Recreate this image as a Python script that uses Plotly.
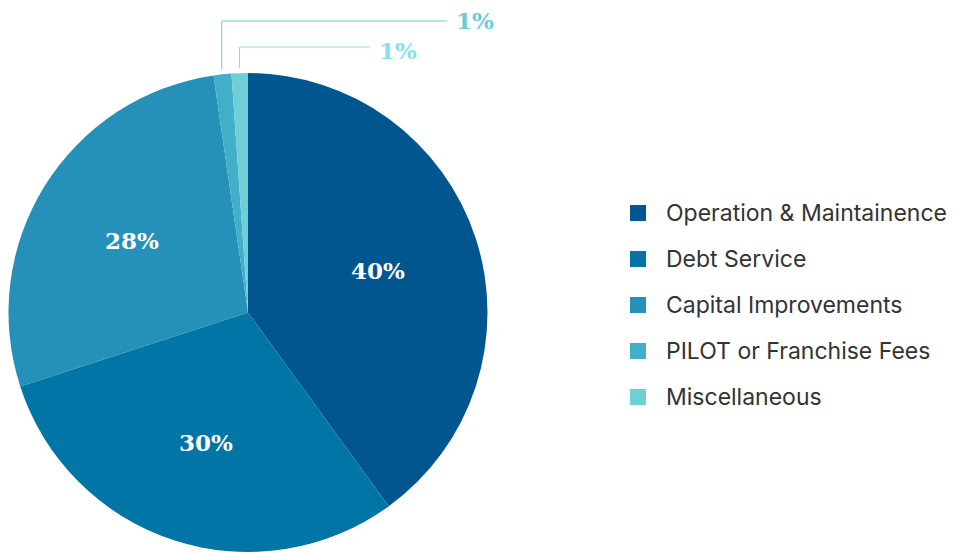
import math
import plotly.graph_objects as go

labels = ["Operation & Maintainence", "Debt Service", "Capital Improvements",
          "PILOT or Franchise Fees", "Miscellaneous"]
values = [40, 30, 27.7, 1.2, 1.1]
colors = ["#02568f", "#0075a6", "#2590b8", "#42afc8", "#6fcfd6"]
outside_colors = {3: "#6ccbd5", 4: "#88dfe8"}

W, H = 959, 552
OFF = 8  # page body margin
cx, cy, R = 248, 312.5, 239.5


def px(x, y):
    # screen pixel -> paper coords
    return (x - OFF) / W, 1 - (y - OFF) / H


fig = go.Figure()
fig.add_pie(
    labels=labels, values=values, sort=False, direction="clockwise", rotation=0,
    marker=dict(colors=colors, line=dict(width=0)), textinfo="none",
    showlegend=False, hoverinfo="label+percent",
    domain=dict(x=[(cx - OFF - R) / W, (cx - OFF + R) / W],
                y=[1 - (cy - OFF + R) / H, 1 - (cy - OFF - R) / H]),
)

total = sum(values)
ann = []
shapes = []
cum = 0
for i, v in enumerate(values):
    mid = (cum + v / 2) / total * 2 * math.pi
    cum += v
    pct = f"{round(100 * v / total)}%"
    if v / total >= 0.05:
        x, y = px(cx + 0.57 * R * math.sin(mid), cy - 0.57 * R * math.cos(mid))
        ann.append(dict(x=x, y=y, text=pct, showarrow=False, xanchor="center", yanchor="middle",
                        font=dict(family="DejaVu Serif", size=23, color="white", weight="bold")))
    else:
        # leader line: up from slice edge, then right to the label
        col = outside_colors[i]
        x0 = cx + (R + 7) * math.sin(mid)
        y0 = cy - (R + 5) * math.cos(mid)
        ytop = 21 if i == 3 else 47
        xend = 447 if i == 3 else 370
        pts = [px(x0, y0), px(x0, ytop), px(xend, ytop)]
        path = "M {} {} L {} {} L {} {}".format(*[c for p in pts for c in p])
        shapes.append(dict(type="path", path=path, xref="paper", yref="paper",
                           line=dict(color=col, width=1)))
        lx, ly = px(xend + 7, ytop + (0 if i == 3 else 3))
        ann.append(dict(x=lx, y=ly, text=pct, showarrow=False, xanchor="left", yanchor="middle",
                        font=dict(family="DejaVu Serif", size=23, color=col, weight="bold")))

# legend
for i, (lab, col) in enumerate(zip(labels, colors)):
    yc = 213 + 46 * i
    x0, y0 = px(630, yc - 8)
    x1, y1 = px(646, yc + 8)
    shapes.append(dict(type="rect", xref="paper", yref="paper", x0=x0, y0=y0, x1=x1, y1=y1,
                       fillcolor=col, line=dict(width=0)))
    tx, ty = px(664, yc)
    ann.append(dict(x=tx, y=ty, text=lab, showarrow=False, xanchor="left", yanchor="middle",
                    font=dict(family="Inter", size=23, color="#333333")))

fig.update_layout(
    width=W, height=H,
    margin=dict(l=0, r=0, t=0, b=0),
    paper_bgcolor="white", plot_bgcolor="white",
    annotations=ann, shapes=shapes,
)

fig.write_html("out.html")
